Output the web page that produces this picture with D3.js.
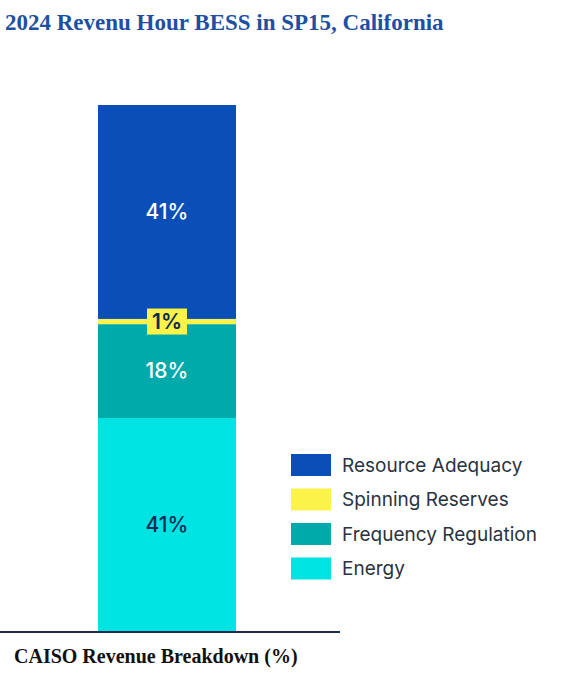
<!DOCTYPE html>
<html><head><meta charset="utf-8">
<script src="https://cdn.jsdelivr.net/npm/d3@7"></script>
<style>body{margin:0;background:#fff}</style></head>
<body><svg id="c" width="574" height="678"></svg>
<script>
const categories = ["Energy","Frequency Regulation","Spinning Reserves","Resource Adequacy"];
const values = [41,18,1,41];
const colors = ["#00e3e3","#00aaaa","#fbf34a","#0a4fb8"];
const labelColors = ["#0b2a55","#ffffff","#0b2a55","#ffffff"];
const legendOrder = ["Resource Adequacy","Spinning Reserves","Frequency Regulation","Energy"];

const svg = d3.select("#c");
const y = d3.scaleLinear().domain([0,101]).range([632,105]);
const x = d3.scaleBand().domain(["CAISO"]).range([98,236]).padding(0);

svg.append("text").attr("x",5).attr("y",30).text("2024 Revenu Hour BESS in SP15, California")
  .attr("font-family","Liberation Serif, serif").attr("font-weight","bold").attr("font-size",23).attr("fill","#1f4fa3");

let cum=0;
const segs = values.map((v,i)=>{const s={v,i,y0:cum,y1:cum+v};cum+=v;return s;});
svg.selectAll("rect.seg").data(segs).join("rect")
  .attr("x",x("CAISO")).attr("width",x.bandwidth())
  .attr("y",d=>y(d.y1)).attr("height",d=>y(d.y0)-y(d.y1))
  .attr("fill",d=>colors[d.i]);

segs.forEach(d=>{
  const cy=(y(d.y0)+y(d.y1))/2;
  const cx=x("CAISO")+x.bandwidth()/2;
  if(d.v<5){
    svg.append("rect").attr("x",cx-20).attr("y",cy-13).attr("width",40).attr("height",26).attr("fill",colors[d.i]);
  }
  svg.append("text").attr("x",cx).attr("y",cy).attr("dy","0.35em").attr("text-anchor","middle")
    .attr("font-family","Inter, sans-serif").attr("font-size",21).attr("font-weight",d.v<5?600:500)
    .attr("fill",d.v<5?"#0b2a55":labelColors[d.i]).text(d.v+"%");
});

svg.append("line").attr("x1",0).attr("x2",340).attr("y1",632).attr("y2",632).attr("stroke","#1c2a55").attr("stroke-width",2);

legendOrder.forEach((n,k)=>{
  const i=categories.indexOf(n);
  const gy=454+k*34.5;
  svg.append("rect").attr("x",291).attr("y",gy).attr("width",40).attr("height",22).attr("fill",colors[i]);
  svg.append("text").attr("x",342).attr("y",gy+11).attr("dy","0.35em").text(n)
    .attr("font-family","Inter, sans-serif").attr("font-size",19).attr("fill","#2a3340");
});

svg.append("text").attr("x",14).attr("y",663).text("CAISO Revenue Breakdown (%)")
  .attr("font-family","Liberation Serif, serif").attr("font-weight","bold").attr("font-size",20).attr("fill","#111");
</script></body></html>
